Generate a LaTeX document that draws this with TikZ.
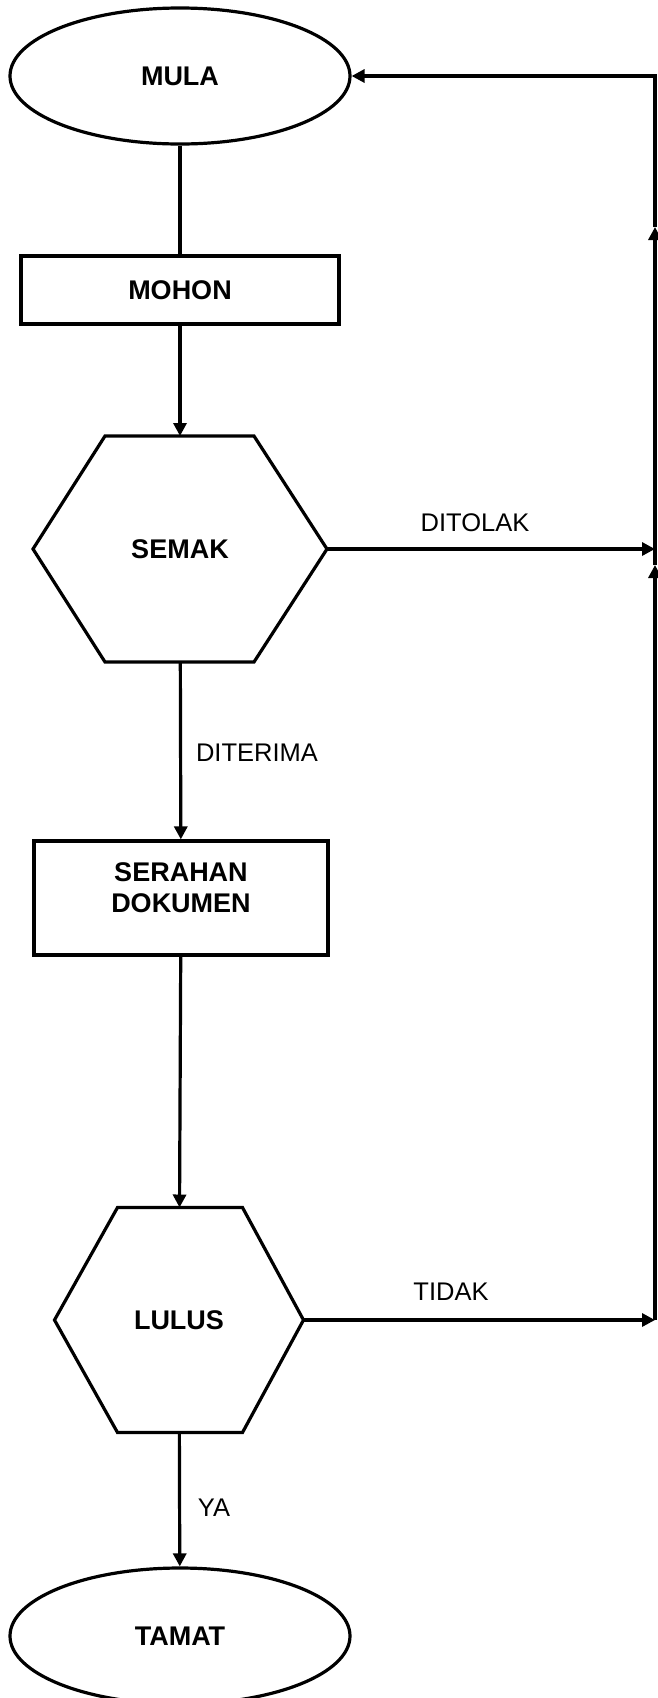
\documentclass[tikz,border=0pt]{standalone}
\usepackage{fontspec}
\setmainfont{Liberation Sans}
\usetikzlibrary{shapes.geometric, arrows.meta}
\tikzstyle{line} = [line width=3.2pt, line join=miter]
\tikzstyle{arrow} = [line width=3.2pt, -{Triangle[length=13pt, width=13pt]}]
\tikzstyle{startstop} = [ellipse, draw, line width=3.2pt, minimum width=340pt, minimum height=136pt, inner sep=0pt, font=\fontsize{27}{31}\selectfont\bfseries]
\tikzstyle{process} = [rectangle, draw, line width=3.2pt, inner sep=0pt, align=center, font=\fontsize{27}{31}\selectfont\bfseries]
\tikzstyle{decision} = [rectangle, outer sep=0pt, inner sep=0pt, font=\fontsize{27}{31}\selectfont\bfseries]
\tikzstyle{answer} = [inner sep=0pt, font=\fontsize{25.5}{30}\selectfont]

\begin{document}
\begin{tikzpicture}[x=1pt, y=-1pt]
      \useasboundingbox (0,0) rectangle (658,1698);
      % boxes
      \node [startstop] (mula) at (180,76) {MULA};
      \node [process, minimum width=318pt, minimum height=68pt] (mohon) at (180,290) {MOHON};
      \node [decision, minimum width=294pt, minimum height=226pt] (semak) at (180,549) {SEMAK};
      \node [process, minimum width=294pt, minimum height=114pt] (serah) at (181,898) {SERAHAN\\DOKUMEN\rule[-20pt]{0pt}{20pt}};
      \node [decision, minimum width=249pt, minimum height=225pt] (lulus) at (179,1320) {LULUS};
      \node [startstop] (tamat) at (180,1636) {TAMAT};
      % hexagons
      \draw [line] (semak.west) -- ([xshift=72pt]semak.north west) -- ([xshift=-73pt]semak.north east)
        -- (semak.east) -- ([xshift=-73pt]semak.south east) -- ([xshift=72pt]semak.south west) -- cycle;
      \draw [line] (lulus.west) -- ([xshift=63pt]lulus.north west) -- ([xshift=-61pt]lulus.north east)
        -- (lulus.east) -- ([xshift=-61pt]lulus.south east) -- ([xshift=63pt]lulus.south west) -- cycle;
      % return line
      \coordinate (j1) at (655,549);
      \coordinate (j2) at (655,1320);
      \coordinate (k1) at (655,227);
      \coordinate (k2) at (655,565);
      % connectors
      \draw [line] (mula) -- (mohon);
      \draw [arrow] (mohon) -- (semak);
      \draw [arrow] (semak) -- (serah);
      \draw [arrow] (serah) -- (lulus);
      \draw [arrow] (lulus) -- (tamat);
      \draw [arrow] (semak.east) -- (j1);
      \draw [arrow] (lulus.east) -- (j2);
      \draw [arrow] (j2) -- (k2);
      \draw [line] (k2) -- (j1);
      \draw [arrow] (j1) -- (k1);
      \draw [arrow] (k1) |- (mula.east);
      % labels
      \node [answer] (ditolak) at (475,523) {DITOLAK};
      \node [answer] (diterima) at (257,753) {DITERIMA};
      \node [answer] (tidak) at (451,1292) {TIDAK};
      \node [answer] (ya) at (214,1508) {YA};
    \end{tikzpicture}
\end{document}
